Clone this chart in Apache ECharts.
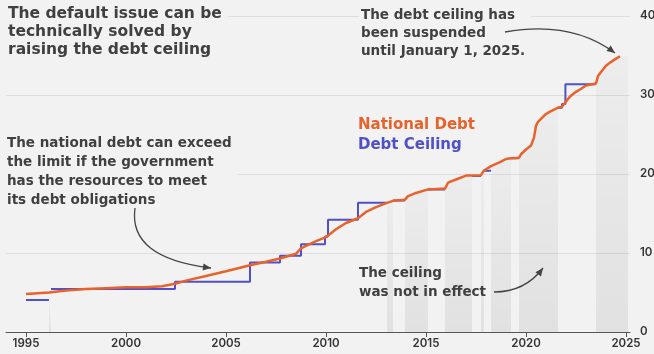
<!DOCTYPE html>
<html><head><meta charset="utf-8">
<script src="https://cdn.jsdelivr.net/npm/echarts@6.0.0/dist/echarts.min.js"></script>
<style>html,body{margin:0;padding:0;background:#f2f2f2}#c{width:654px;height:354px}</style>
</head><body><div id="c"></div>
<script>
// National debt (trillion USD)
const debtYears = [1995.0,1996.15,1996.25,1997.0,1998.0,1999.0,2000.0,2001.0,2001.8,2002.45,2003.0,2004.0,2005.0,2006.2,2007.0,2007.7,2008.5,2008.75,2009.0,2009.5,2010.0,2010.5,2011.0,2011.6,2012.0,2012.5,2013.05,2013.35,2013.95,2014.1,2014.5,2015.1,2015.95,2016.1,2016.5,2017.0,2017.3,2017.75,2017.9,2018.25,2018.7,2019.0,2019.25,2019.65,2019.75,2020.0,2020.25,2020.4,2020.5,2020.6,2021.0,2021.2,2021.6,2021.8,2021.97,2022.2,2022.5,2022.7,2023.0,2023.5,2023.6,2023.75,2024.0,2024.2,2024.5,2024.7];
const debtValues = [4.8,5.0,5.05,5.25,5.45,5.55,5.65,5.65,5.8,6.1,6.5,7.1,7.7,8.45,8.9,9.3,9.9,10.6,10.9,11.5,12.0,13.0,13.8,14.4,15.2,15.8,16.35,16.6,16.75,17.2,17.6,18.05,18.15,18.9,19.3,19.8,19.8,19.85,20.45,21.0,21.5,21.9,22.0,22.05,22.5,23.1,23.6,24.6,26.1,26.6,27.6,27.9,28.4,28.5,29.1,29.8,30.4,30.7,31.2,31.45,32.4,32.9,33.7,34.1,34.6,34.9];

// Debt ceiling segments (trillion USD)
const ceilStart = [1995.0,1996.25,2002.45,2006.2,2007.7,2008.75,2009.95,2010.1,2011.6,2013.35,2015.1,2017.3,2017.9,2019.25,2021.6,2021.8,2021.97];
const ceilEnd   = [1996.15,2002.45,2006.2,2007.7,2008.75,2009.95,2010.1,2011.6,2013.05,2013.95,2015.95,2017.75,2018.25,2019.65,2021.8,2021.97,2023.5];
const ceilValue = [4.05,5.45,6.35,8.8,9.65,11.1,12.1,14.2,16.35,16.65,18.05,19.75,20.4,22.0,28.4,28.85,31.35];

// Periods when the ceiling was not in effect
const bandStart = [1996.15,2013.05,2013.95,2015.95,2017.75,2018.25,2019.65,2023.5];
const bandEnd   = [1996.25,2013.35,2015.1,2017.3,2017.9,2019.25,2021.6,2024.7];
const bandExtendTo = 2025.1;

const xTickYears = [1995,2000,2005,2010,2015,2020,2025];

const BG = '#f2f2f2';
const ORANGE = '#e8622b';
const BLUE = '#5050c8';
const FONT = 'DejaVu Sans';

const debtData = debtYears.map((y,i)=>[y,debtValues[i]]);
const ceilData = [];
for (let i=0;i<ceilStart.length;i++){
  if (i>0 && ceilStart[i] !== ceilEnd[i-1]) ceilData.push([ceilEnd[i-1], null]);
  ceilData.push([ceilStart[i], ceilValue[i]]);
  ceilData.push([ceilEnd[i], ceilValue[i]]);
}

const bandSeries = bandStart.map((s,bi)=>{
  const e = bandEnd[bi];
  const pts = debtData.filter(p=>p[0]>=s-1e-9 && p[0]<=e+1e-9).map(p=>p.slice());
  if (bi === bandStart.length-1) pts.push([bandExtendTo, pts[pts.length-1][1]]);
  return {
    type:'line', data: pts, showSymbol:false, silent:true, z:1,
    lineStyle:{width:0, opacity:0},
    areaStyle:{ origin:'start', opacity:1,
      color: new echarts.graphic.LinearGradient(0,0,0,1,[
        {offset:0,color:'rgba(0,0,0,0.025)'},{offset:1,color:'rgba(0,0,0,0.07)'}]) }
  };
});

function arrowHead(tx,ty,cx,cy){
  const dx=tx-cx, dy=ty-cy, L=Math.hypot(dx,dy), ux=dx/L, uy=dy/L;
  const len=8, w=3.5, bx=tx-ux*len, by=ty-uy*len;
  return {type:'polygon', z:100, shape:{points:[[tx,ty],[bx-uy*w,by+ux*w],[bx+uy*w,by-ux*w]]}, style:{fill:'#444'}};
}
function curve(x1,y1,cx,cy,x2,y2){
  return [{type:'bezierCurve', z:100, shape:{x1,y1,x2,y2,cpx1:cx,cpy1:cy}, style:{stroke:'#444',lineWidth:1.3,fill:null}},
          arrowHead(x2,y2,cx,cy)];
}
function txt(left,top,text,size,weight,color,lh,bg){
  const style = {text, fontSize:size, fontWeight:weight, fontFamily:FONT, fill:color, lineHeight:lh, padding:[2,6,2,2]};
  if (bg) style.backgroundColor = BG;
  return {type:'text', left, top, z:100, style};
}

const chart = echarts.init(document.getElementById('c'));
chart.setOption({
  backgroundColor: BG,
  animation:false,
  grid:{left:6,right:24,top:16,bottom:22,containLabel:false,outerBoundsMode:'none'},
  xAxis:{type:'value',min:1994,max:2025.2,
    axisLine:{show:true,lineStyle:{color:'#555',width:1}},
    axisTick:{show:true,customValues:xTickYears,length:5,lineStyle:{color:'#555'}},
    axisLabel:{customValues:xTickYears,formatter:v=>String(v),color:'#333',fontSize:11.5,fontWeight:600,fontFamily:'Inter',margin:6},
    splitLine:{show:false}},
  yAxis:{type:'value',position:'right',min:0,max:40,interval:10,
    axisLine:{show:false},axisTick:{show:false},
    axisLabel:{color:'#333',fontSize:11.5,fontWeight:600,fontFamily:'Inter',margin:10},
    splitLine:{lineStyle:{color:'#dedede',width:1}}},
  series:[
    ...bandSeries,
    {name:'Debt Ceiling',type:'line',data:ceilData,showSymbol:false,z:3,connectNulls:false,
      lineStyle:{color:BLUE,width:2}},
    {name:'National Debt',type:'line',data:debtData,showSymbol:false,z:4,
      lineStyle:{color:ORANGE,width:2.5}}
  ],
  graphic:[
    txt(6,3,'The default issue can be\ntechnically solved by\nraising the debt ceiling',15.5,'bold','#404040',18,true),
    txt(359,4,'The debt ceiling has\nbeen suspended\nuntil January 1, 2025.',13.5,'bold','#404040',18,true),
    txt(5,132,'The national debt can exceed\nthe limit if the government\nhas the resources to meet\nits debt obligations',13.5,'bold','#404040',19,true),
    txt(356,113,'National Debt',15,'bold',ORANGE,20,false),
    txt(356,133,'Debt Ceiling',15,'bold',BLUE,20,false),
    txt(357,262,'The ceiling\nwas not in effect',13.5,'bold','#404040',19,false),
    ...curve(505,32,571,20,615,53),
    ...curve(135,208,128,258,211,268),
    ...curve(494,292,525,292,543,268)
  ]
});
</script></body></html>
